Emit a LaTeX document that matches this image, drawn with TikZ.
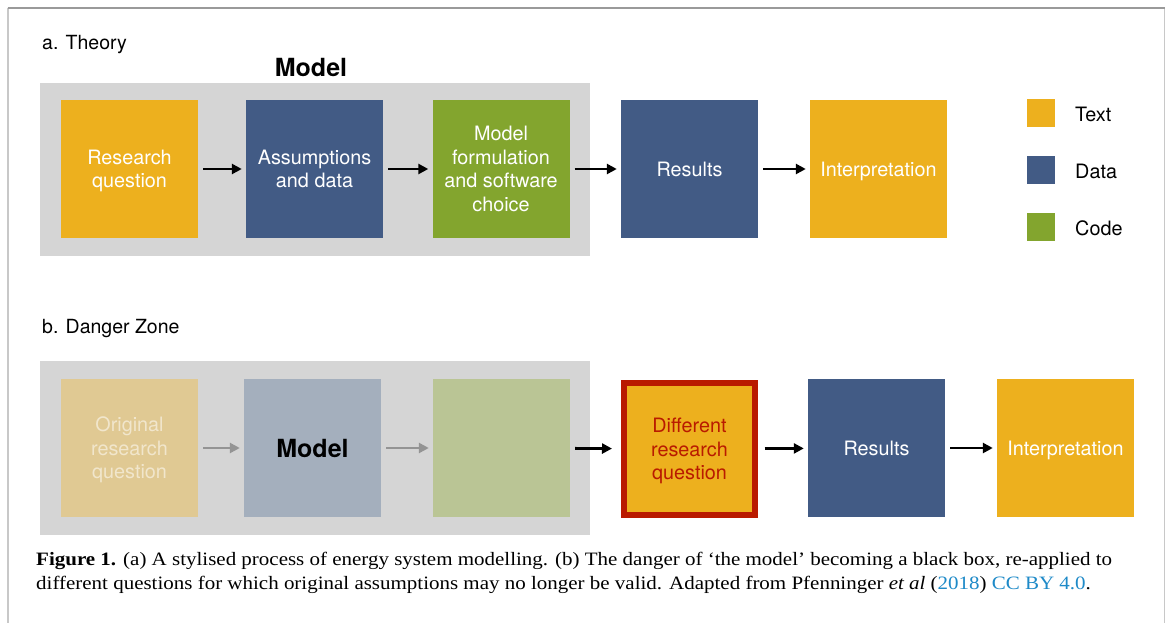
\documentclass[tikz,border=0pt]{standalone}
\usepackage{fontspec}
\setmainfont{Liberation Serif}
\setsansfont{TeX Gyre Heros}
\newfontfamily\capfont[FakeStretch=1.11,Ligatures=TeX]{Liberation Serif}
\usetikzlibrary{arrows.meta}
\definecolor{cText}{HTML}{EDB01E}
\definecolor{cData}{HTML}{425B85}
\definecolor{cCode}{HTML}{83A52E}
\definecolor{cTextF}{HTML}{E0C993}
\definecolor{cDataF}{HTML}{A4AFBD}
\definecolor{cCodeF}{HTML}{BAC595}
\definecolor{cBg}{HTML}{D5D5D5}
\definecolor{cRed}{HTML}{B91A00}
\definecolor{cLink}{HTML}{1E8AC8}
\definecolor{cFadeTxt}{HTML}{F1E6CC}
\definecolor{cFrame}{HTML}{C8C8C8}
\definecolor{cFrameTop}{HTML}{9A9A9A}
\begin{document}
\begin{tikzpicture}[x=1pt,y=-1pt,
  boxtxt/.style={font=\sffamily\fontsize{19.8}{23.5}\selectfont},
  blockbox/.style={boxtxt, minimum width=137pt, minimum height=138pt, inner sep=0pt, align=center, text=white, text depth=0pt},
  legsq/.style={minimum width=28pt, minimum height=28pt, inner sep=0pt},
  flow/.style={line width=2.8pt, -{Triangle[length=10pt,width=10pt]}, shorten <=5pt, shorten >=4pt},
  flowgray/.style={flow, draw=black!42},
  paneltitle/.style={font=\sffamily\fontsize{19.5}{23}\selectfont, anchor=base west, inner sep=0pt},
  modeltitle/.style={font=\sffamily\bfseries\fontsize{25}{29}\selectfont, inner sep=0pt}
]
\useasboundingbox (0,0) rectangle (1171,623);
\fill[white] (0,0) rectangle (1171,623);
% frame
\draw[cFrame, line width=1.5pt] (8,623) -- (8,8.5);
\draw[cFrame, line width=1.5pt] (1164.5,8.5) -- (1164.5,623);
\draw[cFrameTop, line width=1.2pt] (7.5,8) -- (1165,8);

% ---------- panel a ----------
\node[paneltitle] (ta) at (42,50) {a. Theory};
\fill[cBg] (40,83) rectangle (590,256);
\node[modeltitle] (mt) at (311,68) {Model};

\node[blockbox, fill=cText] (a1) at (129.5,169) {Research\\question};
\node[blockbox, fill=cData] (a2) at (314.5,169) {Assumptions\\and data};
\node[blockbox, fill=cCode] (a3) at (501,169) {Model\\formulation\\and software\\choice};
\node[blockbox, fill=cData] (a4) at (689.5,169) {Results};
\node[blockbox, fill=cText] (a5) at (878.5,169) {Interpretation};

\draw[flow] (a1) -- (a2);
\draw[flow] (a2) -- (a3);
\draw[flow] (a3) -- (a4);
\draw[flow] (a4) -- (a5);

% legend
\node[legsq, fill=cText] (l1) at (1041,113) {};
\node[legsq, fill=cData] (l2) at (1041,170) {};
\node[legsq, fill=cCode] (l3) at (1041,227) {};
\node[boxtxt, anchor=west, inner sep=0pt] (lt1) at (1075,114) {Text};
\node[boxtxt, anchor=west, inner sep=0pt] (lt2) at (1075,171) {Data};
\node[boxtxt, anchor=west, inner sep=0pt] (lt3) at (1075,228) {Code};

% ---------- panel b ----------
\node[paneltitle] (tb) at (42,333) {b. Danger Zone};
\fill[cBg] (40,361) rectangle (590,535);

\node[blockbox, fill=cTextF, text=cFadeTxt] (b1) at (129.5,448) {Original\\research\\question};
\node[blockbox, fill=cDataF, text=black, font=\sffamily\bfseries\fontsize{25}{29}\selectfont] (b2) at (312.5,448) {Model};
\node[blockbox, fill=cCodeF] (b3) at (501.5,448) {};
\node[blockbox, fill=cText, draw=cRed, line width=6pt, minimum width=131pt, minimum height=132pt, text=cRed] (b4) at (689.5,449) {Different\\research\\question};
\node[blockbox, fill=cData] (b5) at (876.5,448) {Results};
\node[blockbox, fill=cText] (b6) at (1065.5,448) {Interpretation};

\draw[flowgray] (b1) -- (b2);
\draw[flowgray] (b2) -- (b3);
\draw[flow, shorten >=9pt] (b3) -- (b4);
\draw[flow, shorten <=7pt] (b4) -- (b5);
\draw[flow] (b5) -- (b6);

% ---------- caption ----------
\node[anchor=base west, inner sep=0pt, align=left, font=\capfont\fontsize{18.9}{24}\selectfont] (cap) at (36,589)
{\textbf{Figure 1.} (a) A stylised process of energy system modelling. (b) The danger of ‘the model’ becoming a black box, re-applied to\\
different questions for which original assumptions may no longer be valid. Adapted from Pfenninger \textit{et al} (\textcolor{cLink}{2018}) \textcolor{cLink}{CC BY 4.0}.};
\end{tikzpicture}
\end{document}
